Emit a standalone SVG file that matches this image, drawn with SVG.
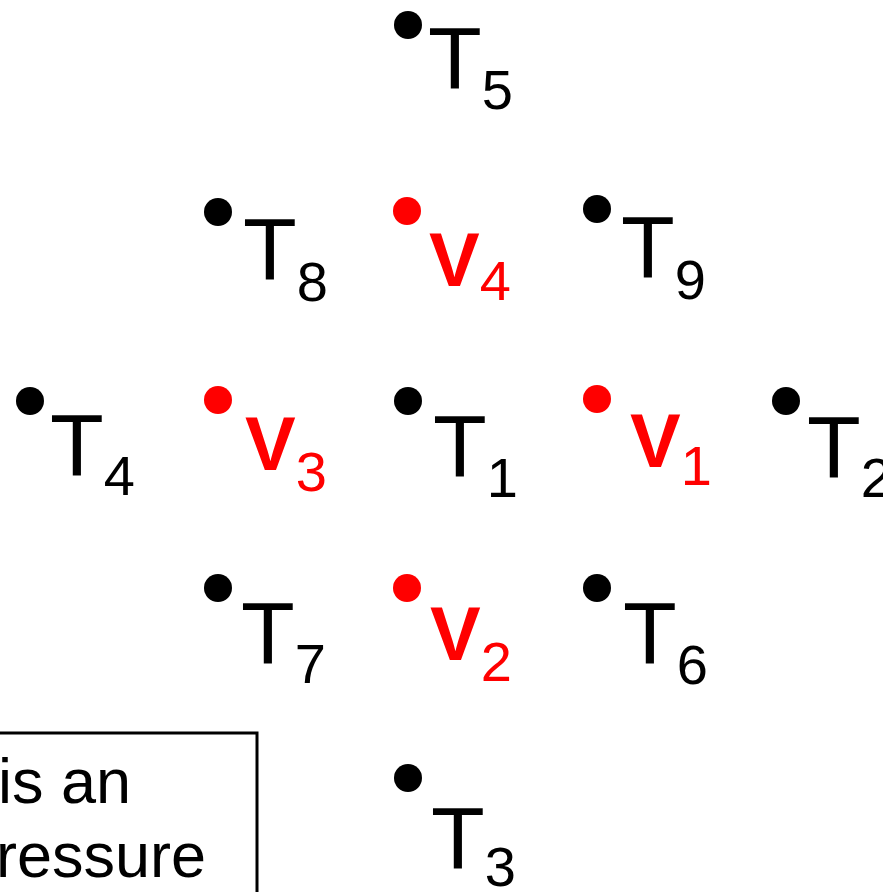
<svg xmlns="http://www.w3.org/2000/svg" width="883" height="892" viewBox="0 0 883 892">
<style>
.dk{fill:#000}
.dr{fill:#ff0000}
.t{font-family:"Liberation Sans",Arial,sans-serif;font-size:88px;fill:#000}
.v{font-family:"Liberation Sans",Arial,sans-serif;font-size:76px;font-weight:bold;fill:#ff0000}
.s{font-size:56px;font-weight:normal}
.box{fill:#fff;stroke:#000;stroke-width:3}
.bt{font-family:"Liberation Sans",Arial,sans-serif;font-size:63px;fill:#000}
</style>
<rect width="883" height="892" fill="#fff"/>
<g id="T5"><circle class="dk" cx="408" cy="25" r="14"/><text class="t" x="428" y="88">T<tspan class="s" dy="21">5</tspan></text></g>
<g id="T8"><circle class="dk" cx="218" cy="212" r="14"/><text class="t" x="243" y="279">T<tspan class="s" dy="22">8</tspan></text></g>
<g id="V4"><circle class="dr" cx="407" cy="211" r="14"/><text class="v" x="429" y="286">V<tspan class="s" dy="14">4</tspan></text></g>
<g id="T9"><circle class="dk" cx="597" cy="209" r="14"/><text class="t" x="621" y="277">T<tspan class="s" dy="22">9</tspan></text></g>
<g id="T4"><circle class="dk" cx="30" cy="401" r="14"/><text class="t" x="50" y="475">T<tspan class="s" dy="20">4</tspan></text></g>
<g id="V3"><circle class="dr" cx="218" cy="400" r="14"/><text class="v" x="245" y="470">V<tspan class="s" dy="21">3</tspan></text></g>
<g id="T1"><circle class="dk" cx="408" cy="401" r="14"/><text class="t" x="433" y="476">T<tspan class="s" dy="21">1</tspan></text></g>
<g id="V1"><circle class="dr" cx="597" cy="399" r="14"/><text class="v" x="630" y="467">V<tspan class="s" dy="18">1</tspan></text></g>
<g id="T2"><circle class="dk" cx="786" cy="401" r="14"/><text class="t" x="807" y="477">T<tspan class="s" dy="20">2</tspan></text></g>
<g id="T7"><circle class="dk" cx="218" cy="588" r="14"/><text class="t" x="241" y="663">T<tspan class="s" dy="20">7</tspan></text></g>
<g id="V2"><circle class="dr" cx="407" cy="588" r="14"/><text class="v" x="430" y="660">V<tspan class="s" dy="21">2</tspan></text></g>
<g id="T6"><circle class="dk" cx="597" cy="588" r="14"/><text class="t" x="623" y="663">T<tspan class="s" dy="21">6</tspan></text></g>
<g id="T3"><circle class="dk" cx="408" cy="778" r="14"/><text class="t" x="431" y="868">T<tspan class="s" dy="18">3</tspan></text></g>
<g id="note"><rect class="box" x="-10" y="733" width="267" height="180"/><text class="bt" x="-2" y="803">is an</text><text class="bt" x="-4" y="877">ressure</text></g>
<g id="connectors"></g>
</svg>
